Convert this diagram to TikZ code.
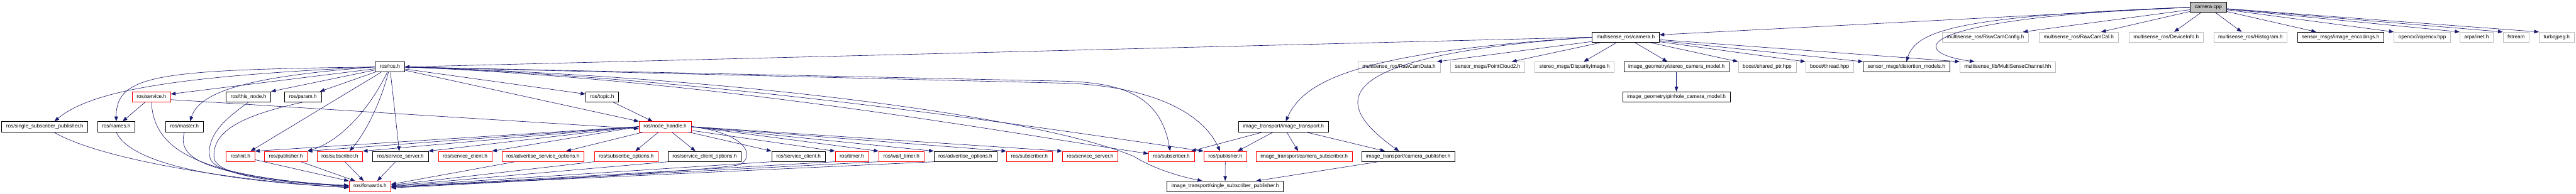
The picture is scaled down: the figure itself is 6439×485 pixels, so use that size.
\documentclass[tikz,border=0pt]{standalone}
\usepackage{fontspec}
\setmainfont{Liberation Sans}
\usepackage{tikz}
\usetikzlibrary{arrows.meta}
\definecolor{EdgeBlue}{RGB}{25,25,112}
\definecolor{ExtGray}{RGB}{191,191,191}
\definecolor{TruncRed}{RGB}{255,0,0}
\definecolor{RootGray}{RGB}{191,191,191}
\tikzset{
  incfile/.style={draw=black,fill=white,line width=1.1pt,minimum height=25.6pt,inner xsep=11.2pt,inner ysep=0pt,text height=9.4pt,text depth=2.7pt,font=\fontsize{13}{15}\selectfont},
  incred/.style={incfile,draw=TruncRed,line width=1pt},
  incext/.style={incfile,draw=ExtGray,line width=1pt},
  incroot/.style={incfile,fill=RootGray},
  incedge/.style={-{Triangle[length=12pt,width=9pt]},line width=1pt,draw=EdgeBlue}
}
\begin{document}
\begin{tikzpicture}[x=1pt,y=-1pt]
\fill[white] (0,0) rectangle (6439,485);
\useasboundingbox (0,0) rectangle (6439,485);
\node[incroot] (cpp) at (5519.8,18.3) {camera.cpp};
\node[incfile] (mcam) at (4063.7,93.2) {multisense\_ros/camera.h};
\node[incext] (rcfg) at (4962.5,93.2) {multisense\_ros/RawCamConfig.h};
\node[incext] (rcal) at (5195.9,93.2) {multisense\_ros/RawCamCal.h};
\node[incext] (dinfo) at (5414.5,93.2) {multisense\_ros/DeviceInfo.h};
\node[incext] (hist) at (5625.3,93.2) {multisense\_ros/Histogram.h};
\node[incfile] (enc) at (5850.4,93.2) {sensor\_msgs/image\_encodings.h};
\node[incext] (ocv) at (6054.7,93.2) {opencv2/opencv.hpp};
\node[incext] (inet) at (6190.5,93.2) {arpa/inet.h};
\node[incext] (fstr) at (6289.3,93.2) {fstream};
\node[incext] (tjpg) at (6390.7,93.2) {turbojpeg.h};
\node[incfile] (ros) at (974.5,167.7) {ros/ros.h};
\node[incext] (rcd) at (3497,167.7) {multisense\_ros/RawCamData.h};
\node[incext] (pc2) at (3718.8,167.7) {sensor\_msgs/PointCloud2.h};
\node[incext] (disp) at (3935.9,167.7) {stereo\_msgs/DisparityImage.h};
\node[incfile] (scm) at (4190.4,167.7) {image\_geometry/stereo\_camera\_model.h};
\node[incext] (shptr) at (4417.2,167.7) {boost/shared\_ptr.hpp};
\node[incext] (thrd) at (4573.2,167.7) {boost/thread.hpp};
\node[incfile] (dist) at (4765.2,167.7) {sensor\_msgs/distortion\_models.h};
\node[incext] (msc) at (5018.5,167.7) {multisense\_lib/MultiSenseChannel.hh};
\node[incred] (service) at (378.5,242.5) {ros/service.h};
\node[incfile] (thisnode) at (621.1,242.5) {ros/this\_node.h};
\node[incfile] (param) at (757.2,242.5) {ros/param.h};
\node[incfile] (topic) at (1505.1,242.5) {ros/topic.h};
\node[incfile] (pcm) at (4190.4,242.5) {image\_geometry/pinhole\_camera\_model.h};
\node[incfile] (sspub) at (112,317.2) {ros/single\_subscriber\_publisher.h};
\node[incfile] (names) at (290.5,317.2) {ros/names.h};
\node[incfile] (master) at (461,317.2) {ros/master.h};
\node[incred] (nh) at (1662.4,317.2) {ros/node\_handle.h};
\node[incfile] (itr) at (3207.9,317.2) {image\_transport/image\_transport.h};
\node[incred] (init) at (601.1,391.7) {ros/init.h};
\node[incred] (pubA) at (714.5,391.7) {ros/publisher.h};
\node[incred] (subA) at (849.3,391.7) {ros/subscriber.h};
\node[incfile] (ssA) at (1001,391.7) {ros/service\_server.h};
\node[incred] (scA) at (1162.5,391.7) {ros/service\_client.h};
\node[incred] (aso) at (1357,391.7) {ros/advertise\_service\_options.h};
\node[incred] (so) at (1565.2,391.7) {ros/subscribe\_options.h};
\node[incfile] (sco) at (1761.4,391.7) {ros/service\_client\_options.h};
\node[incfile] (scB) at (1995.9,391.7) {ros/service\_client.h};
\node[incred] (timer) at (2129.3,391.7) {ros/timer.h};
\node[incred] (wtimer) at (2253.1,391.7) {ros/wall\_timer.h};
\node[incfile] (ao) at (2413,391.7) {ros/advertise\_options.h};
\node[incred] (subB) at (2573,391.7) {ros/subscriber.h};
\node[incred] (ssB) at (2725,391.7) {ros/service\_server.h};
\node[incred] (subC) at (2927.9,391.7) {ros/subscriber.h};
\node[incred] (pubC) at (3062.6,391.7) {ros/publisher.h};
\node[incred] (csub) at (3259.8,391.7) {image\_transport/camera\_subscriber.h};
\node[incfile] (cpub) at (3520,391.7) {image\_transport/camera\_publisher.h};
\node[incred] (fwd) at (925,466.5) {ros/forwards.h};
\node[incfile] (itssp) at (3062.4,466.5) {image\_transport/single\_subscriber\_publisher.h};
\draw[incedge] (cpp.west) -- ([yshift=6pt]mcam.east);
\draw[incedge] (cpp) -- ([xshift=94pt]rcfg.north);
\draw[incedge] (cpp) -- ([xshift=56pt]rcal.north);
\draw[incedge] (cpp) -- ([xshift=20pt]dinfo.north);
\draw[incedge] (cpp) -- ([xshift=-22pt]hist.north);
\draw[incedge] (cpp) -- ([xshift=-61pt]enc.north);
\draw[incedge] (cpp) -- (ocv.north west);
\draw[incedge] (cpp) -- (inet.north west);
\draw[incedge] (cpp) -- (fstr.north west);
\draw[incedge] (cpp) -- (tjpg.north west);
\draw[incedge] (cpp.west) .. controls (4900,40) and (4790,75) .. (dist.north);
\draw[incedge] (cpp.west) .. controls (4780,45) and (4760,130) .. ([xshift=-83pt]msc.north);
\draw[incedge] (mcam.west) -- (ros.east);
\draw[incedge] (mcam.west) .. controls (3400,130) and (3260,200) .. ([xshift=6pt]itr.north);
\draw[incedge] (mcam.west) .. controls (3300,140) and (3330,260) .. ([xshift=-23pt]cpub.north);
\draw[incedge] (mcam) -- ([xshift=-8pt]rcd.north east);
\draw[incedge] (mcam) -- ([xshift=-33pt]pc2.north east);
\draw[incedge] (mcam) -- (disp);
\draw[incedge] (mcam) -- (scm);
\draw[incedge] (mcam) -- (shptr.north west);
\draw[incedge] (mcam) -- (thrd.north west);
\draw[incedge] (mcam) -- (dist.north west);
\draw[incedge] (mcam) -- (msc.north west);
\draw[incedge] (scm) -- (pcm);
\draw[incedge] (ros) -- (thisnode.north east);
\draw[incedge] (ros) -- ([xshift=-4pt]param.north east);
\draw[incedge] (ros) -- ([xshift=-11pt]init.north east);
\draw[incedge] (ros) .. controls (930,260) and (860,350) .. (pubA.north east);
\draw[incedge] (ros) .. controls (950,260) and (915,330) .. ([xshift=-33pt]subA.north east);
\draw[incedge] (ros) -- ([xshift=-3pt]ssA.north);
\draw[incedge] (ros) -- ([yshift=7pt]service.east);
\draw[incedge] (ros.west) .. controls (450,190) and (230,225) .. ([xshift=24pt]sspub.north);
\draw[incedge] (ros.west) .. controls (400,175) and (290,185) .. (names.north);
\draw[incedge] (ros.west) .. controls (640,190) and (500,225) .. ([xshift=14pt]master.north);
\draw[incedge] (ros) -- ([yshift=7pt]topic.west);
\draw[incedge] (ros) -- (nh.north west);
\draw[incedge] (ros.east) -- (2650,203) .. controls (2800,206) and (2900,235) .. ([xshift=-3pt]subC.north);
\draw[incedge] (ros.east) -- (2650,208) .. controls (2850,212) and (3000,270) .. ([xshift=-13pt]pubC.north);
\draw[incedge] (ros.east) .. controls (1900,195) and (2620,300) .. (2835,392) .. controls (2880,420) and (2940,440) .. ([xshift=-57pt]itssp.north);
\draw[incedge] (ros.east) .. controls (1800,200) and (2500,330) .. ([yshift=7pt]subC.west);
\draw[incedge] (ros.east) .. controls (1800,195) and (2600,320) .. (pubC.north west);
\draw[incedge] (topic) -- ([xshift=-31pt]nh.north);
\draw[incedge] ([yshift=-7pt]service.east) -- ([yshift=-5pt]nh.west);
\draw[incedge] (service) -- ([xshift=16pt]names.north);
\draw[incedge] (nh.west) -- (init.north east);
\draw[incedge] (nh.west) -- (pubA.north east);
\draw[incedge] (nh.west) -- (subA.north east);
\draw[incedge] (nh.west) -- (ssA.north east);
\draw[incedge] (nh.west) -- (scA.north east);
\draw[incedge] (nh) -- ([xshift=58pt]aso.north);
\draw[incedge] (nh) -- ([xshift=23pt]so.north);
\draw[incedge] (nh) -- ([xshift=-23pt]sco.north);
\draw[incedge] (nh) -- (scB.north west);
\draw[incedge] (nh) -- (timer.north west);
\draw[incedge] (nh.east) -- (wtimer.north west);
\draw[incedge] (nh.east) -- (ao.north west);
\draw[incedge] (nh.east) -- (subB.north west);
\draw[incedge] (nh.east) -- (ssB.north west);
\draw[incedge] (nh.east) .. controls (1850,330) and (1895,385) .. (1850,412) .. controls (1800,425) and (1300,455) .. ([yshift=-4pt]fwd.east);
\draw[incedge] ([xshift=22pt]sspub.south) .. controls (250,400) and (600,455) .. ([yshift=-3pt]fwd.west);
\draw[incedge] (names.south) .. controls (330,420) and (600,455) .. ([yshift=-3pt]fwd.west);
\draw[incedge] (service.south) .. controls (385,380) and (500,440) .. ([yshift=-1pt]fwd.west);
\draw[incedge] (master.south) .. controls (440,400) and (520,440) .. (fwd.west);
\draw[incedge] (thisnode.south) .. controls (560,300) and (515,340) .. (525,395) .. controls (535,440) and (700,455) .. ([yshift=2pt]fwd.west);
\draw[incedge] (param.south) .. controls (600,290) and (530,330) .. (535,395) .. controls (540,440) and (700,460) .. ([yshift=2pt]fwd.west);
\draw[incedge] (init) -- (fwd.north west);
\draw[incedge] (pubA) -- ([xshift=16pt]fwd.north west);
\draw[incedge] (subA) -- ([xshift=-16pt]fwd.north);
\draw[incedge] (ssA) -- ([xshift=18pt]fwd.north);
\draw[incedge] ([xshift=-70pt]aso.south) -- ([yshift=5pt]fwd.east);
\draw[incedge] (so.south west) -- ([yshift=3pt]fwd.east);
\draw[incedge] (sco.south west) -- ([yshift=1pt]fwd.east);
\draw[incedge] (scB.south west) -- (fwd.east);
\draw[incedge] (timer.south west) -- ([yshift=-2pt]fwd.east);
\draw[incedge] (wtimer.south west) -- ([yshift=-2pt]fwd.east);
\draw[incedge] (ao.south west) -- ([yshift=-2pt]fwd.east);
\draw[incedge] (itr) -- ([xshift=-8pt]subC.north east);
\draw[incedge] (itr) -- ([xshift=31pt]pubC.north);
\draw[incedge] (itr) -- ([xshift=-15pt]csub.north);
\draw[incedge] (itr) -- ([xshift=-58pt]cpub.north);
\draw[incedge] (pubC) -- (itssp);
\draw[incedge] ([xshift=-75pt]cpub.south) -- ([xshift=77pt]itssp.north);
\end{tikzpicture}
\end{document}
